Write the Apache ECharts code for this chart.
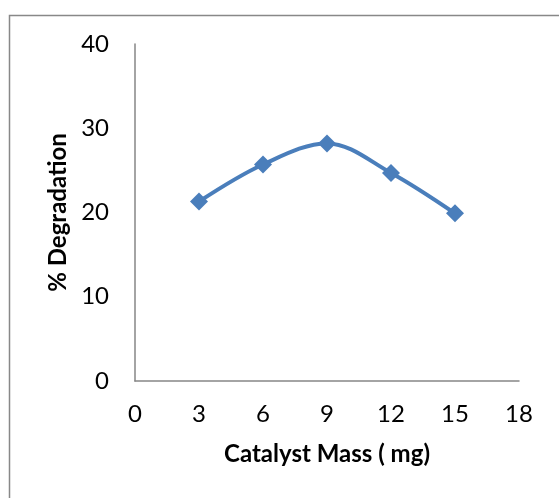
<!DOCTYPE html>
<html><head><meta charset="utf-8">
<script src="https://cdn.jsdelivr.net/npm/echarts@6/dist/echarts.min.js"></script>
<style>html,body{margin:0;padding:0;background:#fff}#c{width:559px;height:498px}</style>
</head><body><div id="c"></div>
<script>
const xValues = [3, 6, 9, 12, 15];
const degradation = [21.3, 25.7, 28.2, 24.7, 19.9];
const xTicks = [0, 3, 6, 9, 12, 15, 18];
const yTicks = [0, 10, 20, 30, 40];

const chart = echarts.init(document.getElementById('c'), null, {renderer: 'canvas'});
const font = 'Lato, "Open Sans", sans-serif';
chart.setOption({
  animation: false,
  backgroundColor: '#fff',
  graphic: [{type: 'rect', shape: {x: 9.5, y: 15.5, width: 700, height: 700}, style: {fill: 'none', stroke: '#888', lineWidth: 1.5}, z: -1}],
  grid: {left: 135, right: 40, top: 44, bottom: 117},
  xAxis: {
    type: 'value', min: xTicks[0], max: xTicks[xTicks.length - 1], interval: 3,
    name: 'Catalyst Mass ( mg)', nameLocation: 'middle', nameGap: 61,
    nameTextStyle: {fontFamily: font, fontWeight: 'bold', fontSize: 24, color: '#000'},
    axisLine: {lineStyle: {color: '#868686', width: 1.5}},
    axisTick: {show: false},
    splitLine: {show: false},
    axisLabel: {fontFamily: font, fontSize: 24, color: '#000', margin: 21}
  },
  yAxis: {
    type: 'value', min: yTicks[0], max: yTicks[yTicks.length - 1], interval: 10,
    name: '% Degradation', nameLocation: 'middle', nameGap: 62,
    nameTextStyle: {fontFamily: font, fontWeight: 'bold', fontSize: 24, color: '#000'},
    axisLine: {show: true, lineStyle: {color: '#868686', width: 1.5}},
    axisTick: {show: false},
    splitLine: {show: false},
    axisLabel: {fontFamily: font, fontSize: 24, color: '#000', margin: 26}
  },
  series: [{
    type: 'line', smooth: 0.35,
    data: xValues.map((x, i) => [x, degradation[i]]),
    symbol: 'diamond', symbolSize: 18,
    lineStyle: {color: '#4a7ebb', width: 4},
    itemStyle: {color: '#4a7ebb'}
  }]
});
</script></body></html>
